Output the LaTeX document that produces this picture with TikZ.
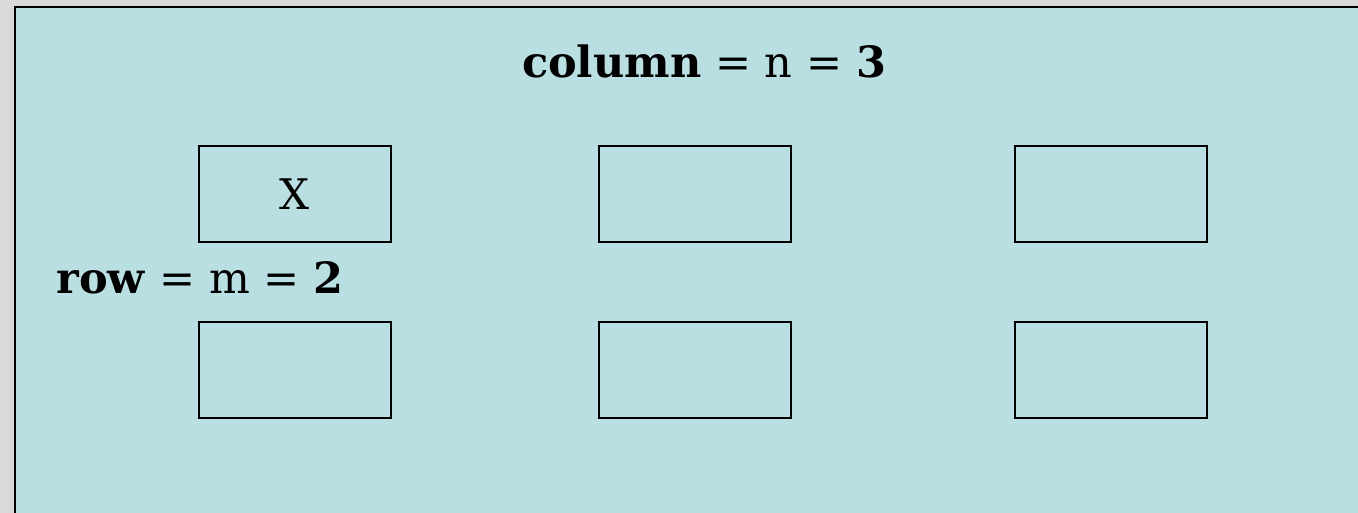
\documentclass[tikz,border=0pt]{standalone}
\usepackage{fontspec}
\setmainfont{DejaVu Serif}
\definecolor{bggray}{HTML}{D9D9D9}
\definecolor{cellblue}{HTML}{B9DFE2}
\tikzset{
  cell/.style={draw, line width=1.1pt, minimum width=3.84cm, minimum height=1.92cm, inner sep=0pt},
  label/.style={anchor=base, inner sep=0pt, font=\fontsize{24.5}{28}\selectfont}
}
\begin{document}
\begin{tikzpicture}[x=0.02cm, y=-0.02cm]

    % 背景
    \useasboundingbox (0,0) rectangle (1358,513);
    \fill[bggray] (0,0) rectangle (1358,513);
    \fill[cellblue] (15,7) rectangle (1358,513);
    \draw[line width=1.5pt] (15,513) -- (15,7) -- (1358,7);

    % 画六个格子
    \node[cell] (c11) at (295,194) {\fontsize{24}{28}\selectfont X};
    \node[cell] (c12) at (695,194) {};
    \node[cell] (c13) at (1111,194) {};
    \node[cell] (c21) at (295,370) {};
    \node[cell] (c22) at (695,370) {};
    \node[cell] (c23) at (1111,370) {};

    % 插入文字
    \node[label] (colsize) at (704,78) {\textbf{column} = n = \textbf{3}};
    \node[label, anchor=base west] (rowsize) at (56,293) {\textbf{row} = m = \textbf{2}};

  \end{tikzpicture}
\end{document}
